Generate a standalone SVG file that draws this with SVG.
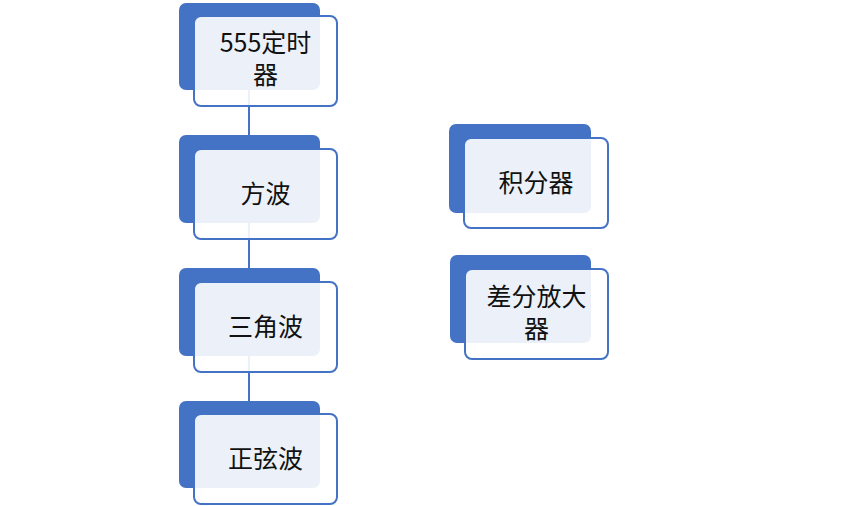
<svg xmlns="http://www.w3.org/2000/svg" width="865" height="506" viewBox="0 0 865 506">
<style>
.bk{fill:#4472C4;}
.fr{fill:#ffffff;fill-opacity:0.9;stroke:#4472C4;stroke-width:2;}
.t{font-family:"Noto Sans CJK SC","Noto Sans",sans-serif;font-size:25px;fill:#111;text-anchor:middle;}
.c{stroke:#4472C4;stroke-width:2;fill:none;}
</style>
<rect width="865" height="506" fill="#fff"/>
<g id="connectors">
<line class="c" x1="249" y1="90" x2="249" y2="135"/>
<line class="c" x1="249" y1="223" x2="249" y2="268"/>
<line class="c" x1="249" y1="356" x2="249" y2="401"/>
</g>
<g id="n1">
<rect class="bk" x="179" y="3" width="141" height="87" rx="7"/>
<rect class="fr" x="194" y="16" width="143" height="90" rx="7"/>
<text class="t" x="265.5" y="52">555定时</text>
<text class="t" x="265.5" y="84">器</text>
</g>
<g id="n2">
<rect class="bk" x="179" y="135" width="141" height="88" rx="7"/>
<rect class="fr" x="194" y="149" width="143" height="90" rx="7"/>
<text class="t" x="265.5" y="203">方波</text>
</g>
<g id="n3">
<rect class="bk" x="179" y="268" width="141" height="88" rx="7"/>
<rect class="fr" x="194" y="282" width="143" height="90" rx="7"/>
<text class="t" x="265.5" y="336">三角波</text>
</g>
<g id="n4">
<rect class="bk" x="179" y="401" width="141" height="87" rx="7"/>
<rect class="fr" x="194" y="414" width="143" height="90" rx="7"/>
<text class="t" x="265.5" y="468">正弦波</text>
</g>
<g id="n5">
<rect class="bk" x="449" y="124" width="142" height="89" rx="7"/>
<rect class="fr" x="464" y="138" width="144" height="90" rx="7"/>
<text class="t" x="536" y="192">积分器</text>
</g>
<g id="n6">
<rect class="bk" x="450" y="255" width="141" height="88" rx="7"/>
<rect class="fr" x="465" y="269" width="143" height="90" rx="7"/>
<text class="t" x="536.5" y="306">差分放大</text>
<text class="t" x="536.5" y="338">器</text>
</g>
</svg>
